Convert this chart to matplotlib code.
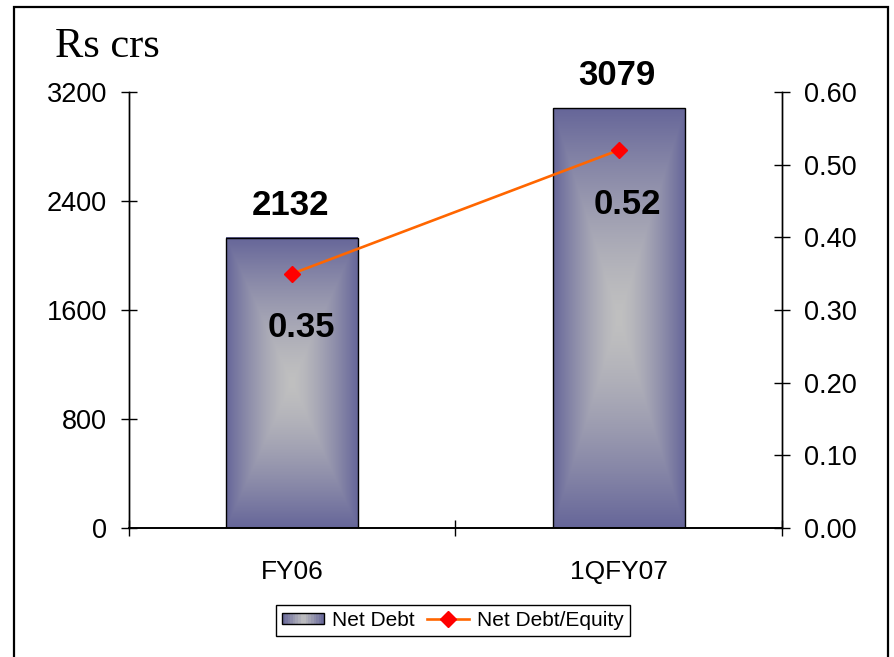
import numpy as np
import matplotlib
matplotlib.use('Agg')
import matplotlib.pyplot as plt
from matplotlib.patches import Rectangle
from matplotlib.lines import Line2D
from matplotlib.legend_handler import HandlerBase
from matplotlib.ticker import FormatStrFormatter

categories = ['FY06', '1QFY07']
net_debt = [2132, 3079]
debt_equity = [0.35, 0.52]
left_ticks = [0, 800, 1600, 2400, 3200]
right_ticks = [0.0, 0.1, 0.2, 0.3, 0.4, 0.5, 0.6]

edge_col = np.array([0x66, 0x66, 0x99]) / 255.0
mid_col = np.array([0xC0, 0xC0, 0xC0]) / 255.0

plt.rcParams['font.family'] = ['Liberation Sans', 'DejaVu Sans']

fig = plt.figure(figsize=(8.94, 6.57), dpi=100)
ax = fig.add_axes([0.1443, 0.1963, 0.8747 - 0.1443, 0.860 - 0.1963])
ax2 = ax.twinx()

# rectangular "from centre" gradient for the bars
n = 200
u = np.linspace(-1, 1, n)
U, V = np.meshgrid(u, u)
t = (np.maximum(np.abs(U), np.abs(V)) ** 1.4)[..., None]
grad = mid_col * (1 - t) + edge_col * t

x = np.arange(len(categories))
width = 0.404
for xi, h in zip(x, net_debt):
    ax.imshow(grad, extent=[xi - width / 2, xi + width / 2, 0, h],
              aspect='auto', zorder=2, interpolation='bilinear')
    ax.add_patch(Rectangle((xi - width / 2, 0), width, h, fill=False,
                           edgecolor='black', lw=1.0, zorder=3))
    ax.annotate(str(h), (xi, h), xytext=(-2, 16), textcoords='offset pixels',
                ha='center', va='bottom', fontsize=25, fontweight='bold')

ax.set_xlim(-0.5, 1.5)
ax.set_ylim(0, 3200)
ax.set_yticks(left_ticks)
ax.set_xticks(x)
ax.set_xticklabels(categories, fontsize=19)
ax.set_xticks([-0.5, 0.5, 1.5], minor=True)
ax.tick_params(axis='x', which='major', length=0, pad=23)
ax.tick_params(axis='x', which='minor', direction='inout', length=12, width=1)
ax.tick_params(axis='y', direction='inout', length=12, width=1, labelsize=19.5, pad=10)

ax2.plot(x, debt_equity, color='#FF6600', lw=1.9, marker='D', markersize=8,
         markerfacecolor='red', markeredgecolor='red', zorder=4)
for xi, v in zip(x, debt_equity):
    ax2.annotate('%.2f' % v, (xi, v), xytext=(9, -54), textcoords='offset pixels',
                 ha='center', va='center', fontsize=25, fontweight='bold')
ax2.set_ylim(0, 0.6)
ax2.set_yticks(right_ticks)
ax2.yaxis.set_major_formatter(FormatStrFormatter('%.2f'))
ax2.tick_params(axis='y', direction='inout', length=12, width=1, labelsize=19.5, pad=10)

for a in (ax, ax2):
    a.spines['top'].set_visible(False)
    a.spines['left'].set_linewidth(1.0)
    a.spines['right'].set_linewidth(1.0)
    a.spines['bottom'].set_linewidth(1.2)

fig.text(55 / 894, 1 - 57 / 657, 'Rs crs', fontsize=30.5,
         family=['Liberation Serif', 'DejaVu Serif'], ha='left', va='baseline')

# outer frame
fig.add_artist(Rectangle((14 / 894, -0.05), (888 - 14) / 894, 1.05 - 7 / 657,
                         transform=fig.transFigure, fill=False,
                         edgecolor='black', lw=1.6, clip_on=False))


class GradHandler(HandlerBase):
    def create_artists(self, legend, orig_handle, xdescent, ydescent,
                       width, height, fontsize, trans):
        arts = []
        k = 16
        h = height * 0.75
        y0 = -ydescent + (height - h) / 2
        for i in range(k):
            tt = abs((i + 0.5) / k * 2 - 1)
            c = mid_col * (1 - tt) + edge_col * tt
            arts.append(Rectangle((-xdescent + width * i / k, y0), width / k + 0.3, h,
                                  facecolor=c, edgecolor='none', transform=trans))
        arts.append(Rectangle((-xdescent, y0), width, h, fill=False,
                              edgecolor='black', lw=1.0, transform=trans))
        return arts


bar_handle = Rectangle((0, 0), 1, 1)
line_handle = Line2D([], [], color='#FF6600', lw=1.9, marker='D', markersize=8,
                     markerfacecolor='red', markeredgecolor='red')
leg = fig.legend([bar_handle, line_handle], ['Net Debt', 'Net Debt/Equity'],
                 loc='center', bbox_to_anchor=(0.507, 0.0556), ncol=2,
                 fontsize=15, frameon=True, fancybox=False, framealpha=1,
                 edgecolor='black', handlelength=2.0, columnspacing=0.6,
                 handletextpad=0.4, borderpad=0.3,
                 handler_map={Rectangle: GradHandler()})
leg.get_frame().set_linewidth(1.0)

plt.savefig('out.png', dpi=100)
